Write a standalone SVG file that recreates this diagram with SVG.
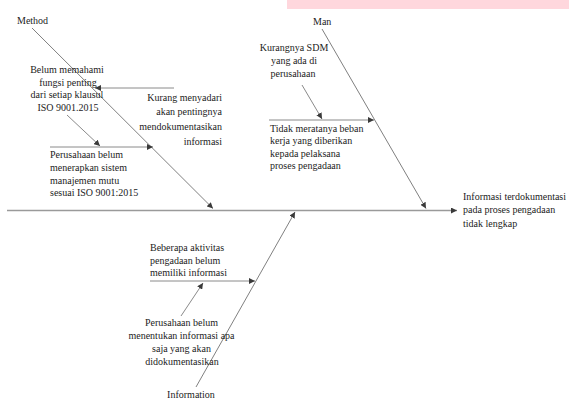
<svg xmlns="http://www.w3.org/2000/svg" width="569" height="399" viewBox="0 0 569 399">
<defs>
<marker id="arr" markerUnits="userSpaceOnUse" markerWidth="7" markerHeight="6" refX="6" refY="3" orient="auto">
<path d="M0,0 L6,3 L0,6 Z" fill="#3a3a3a"/>
</marker>
<style>
text{font-family:"Liberation Serif","Times New Roman",serif;font-size:10px;fill:#1c1c1c}
.c{text-anchor:middle}
.r{text-anchor:end}
.bone{stroke:#808080;stroke-width:1;fill:none}
.spine{stroke:#9a9a9a;stroke-width:1.5;fill:none}
.sub{stroke:#8a8a8a;stroke-width:1;fill:none}
</style>
</defs>
<rect x="287" y="0" width="282" height="9" fill="#ffd7dd"/>
<g id="connectors">
<line class="spine" x1="7" y1="210.5" x2="457" y2="210.5" marker-end="url(#arr)"/>
<line class="bone" x1="32" y1="28" x2="213" y2="208.5" marker-end="url(#arr)"/>
<line class="bone" x1="322" y1="29" x2="426" y2="208.5" marker-end="url(#arr)"/>
<line class="bone" x1="196" y1="387" x2="295" y2="212" marker-end="url(#arr)"/>
<line class="sub" x1="174" y1="88" x2="95" y2="88" marker-end="url(#arr)"/>
<line class="sub" x1="67" y1="115" x2="100" y2="146" marker-end="url(#arr)"/>
<line class="sub" x1="50" y1="147" x2="153" y2="147" marker-end="url(#arr)"/>
<line class="sub" x1="302" y1="85" x2="322" y2="119" marker-end="url(#arr)"/>
<line class="sub" x1="269" y1="120" x2="374" y2="120" marker-end="url(#arr)"/>
<line class="sub" x1="150" y1="281" x2="255" y2="281" marker-end="url(#arr)"/>
<line class="sub" x1="181" y1="316" x2="203" y2="283" marker-end="url(#arr)"/>
</g>
<g id="method"><text x="17" y="24">Method</text></g>
<g id="man"><text x="313" y="25">Man</text></g>
<g id="information"><text class="c" x="191" y="398">Information</text></g>
<g id="effect">
<text x="463" y="199.5">Informasi terdokumentasi</text>
<text x="463" y="213">pada proses pengadaan</text>
<text x="463" y="226.5">tidak lengkap</text>
</g>
<g id="belum-memahami">
<text class="c" x="67" y="73">Belum memahami</text>
<text class="c" x="68" y="85.5">fungsi penting</text>
<text class="c" x="67" y="98">dari setiap klausul</text>
<text class="c" x="68" y="110.5">ISO 9001.2015</text>
</g>
<g id="kurang-menyadari">
<text class="r" x="222" y="100.5">Kurang menyadari</text>
<text class="r" x="222" y="115">akan pentingnya</text>
<text class="r" x="222" y="130">mendokumentasikan</text>
<text class="r" x="222" y="144.5">informasi</text>
</g>
<g id="perusahaan-belum-menerapkan">
<text x="50" y="158">Perusahaan belum</text>
<text x="50" y="171">menerapkan sistem</text>
<text x="50" y="183.5">manajemen mutu</text>
<text x="50" y="196">sesuai ISO 9001:2015</text>
</g>
<g id="kurangnya-sdm">
<text class="c" x="294" y="50.5">Kurangnya SDM</text>
<text class="c" x="294" y="63.5">yang ada di</text>
<text class="c" x="293" y="76.5">perusahaan</text>
</g>
<g id="tidak-meratanya">
<text x="270" y="131.5">Tidak meratanya beban</text>
<text x="270" y="144">kerja yang diberikan</text>
<text x="270" y="156.5">kepada pelaksana</text>
<text x="270" y="169">proses pengadaan</text>
</g>
<g id="beberapa-aktivitas">
<text x="150" y="251">Beberapa aktivitas</text>
<text x="150" y="263.5">pengadaan belum</text>
<text x="150" y="276">memiliki informasi</text>
</g>
<g id="perusahaan-belum-menentukan">
<text class="c" x="181.5" y="325.5">Perusahaan belum</text>
<text class="c" x="181.5" y="338.5">menentukan informasi apa</text>
<text class="c" x="181.5" y="351.5">saja yang akan</text>
<text class="c" x="182" y="364.5">didokumentasikan</text>
</g>
</svg>
